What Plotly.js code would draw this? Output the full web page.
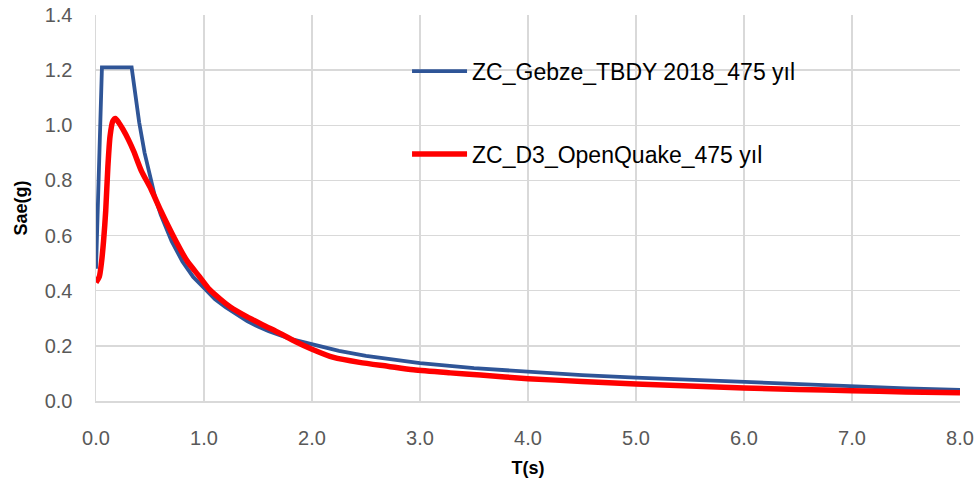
<!DOCTYPE html>
<html>
<head>
<meta charset="utf-8">
<script src="https://cdn.plot.ly/plotly-3.0.1.min.js"></script>
<style>html,body{margin:0;padding:0;background:#fff;}#chart{width:977px;height:481px;}</style>
</head>
<body>
<div id="chart"></div>
<script>
// Series 1: ZC_Gebze_TBDY 2018_475 yıl
var tbdyT = [0, 0.055, 0.33, 0.36, 0.4, 0.45, 0.5, 0.55, 0.6, 0.7, 0.8, 0.9, 1.0, 1.1, 1.2, 1.3, 1.4, 1.5, 1.6, 1.8, 2.0, 2.25, 2.5, 2.75, 3.0, 3.5, 4.0, 4.5, 5.0, 5.5, 6.0, 6.5, 7.0, 7.5, 8.0];
var tbdySae = [0.48, 1.21, 1.21, 1.125, 1.01, 0.90, 0.81, 0.735, 0.675, 0.58, 0.506, 0.45, 0.41, 0.37, 0.34, 0.313, 0.29, 0.27, 0.253, 0.225, 0.205, 0.182, 0.164, 0.149, 0.137, 0.119, 0.105, 0.094, 0.085, 0.077, 0.070, 0.061, 0.052, 0.046, 0.040];

// Series 2: ZC_D3_OpenQuake_475 yıl
var oqT = [0, 0.03, 0.05, 0.07, 0.09, 0.11, 0.13, 0.155, 0.18, 0.21, 0.25, 0.3, 0.35, 0.42, 0.51, 0.6, 0.72, 0.84, 0.96, 1.05, 1.15, 1.24, 1.4, 1.55, 1.7, 1.85, 2.0, 2.2, 2.44, 2.7, 2.94, 3.28, 3.56, 4.0, 4.5, 5.0, 5.5, 6.0, 6.5, 7.0, 7.5, 8.0];
var oqSae = [0.43, 0.45, 0.50, 0.58, 0.69, 0.85, 0.96, 1.015, 1.025, 1.01, 0.985, 0.948, 0.905, 0.835, 0.768, 0.69, 0.595, 0.51, 0.45, 0.405, 0.37, 0.342, 0.305, 0.275, 0.246, 0.215, 0.188, 0.158, 0.14, 0.126, 0.113, 0.102, 0.094, 0.081, 0.071, 0.062, 0.054, 0.047, 0.042, 0.037, 0.033, 0.030];

var seriesNames = ["ZC_Gebze_TBDY 2018_475 yıl", "ZC_D3_OpenQuake_475 yıl"];
var xTicks = [0, 1, 2, 3, 4, 5, 6, 7, 8];
var xTickText = ["0.0", "1.0", "2.0", "3.0", "4.0", "5.0", "6.0", "7.0", "8.0"];
var yTicks = [0, 0.2, 0.4, 0.6, 0.8, 1.0, 1.2, 1.4];
var yTickText = ["0.0", "0.2", "0.4", "0.6", "0.8", "1.0", "1.2", "1.4"];

var fontFam = "Liberation Sans, Arial, sans-serif";

var traces = [
  {x: tbdyT, y: tbdySae, name: seriesNames[0], type: "scatter", mode: "lines",
   legendgroup: "a", line: {color: "#2F5597", width: 3.8}},
  {x: oqT, y: oqSae, name: seriesNames[1], type: "scatter", mode: "lines",
   legendgroup: "b", line: {color: "#FF0000", width: 5.5, shape: "spline", smoothing: 0.7}}
];

var layout = {
  width: 977, height: 481,
  margin: {l: 96, r: 17, t: 15, b: 80},
  paper_bgcolor: "#fff", plot_bgcolor: "#fff",
  font: {family: fontFam, color: "#595959", size: 20},
  showlegend: true,
  legend: {x: 0.36, y: 0.91, xanchor: "left", yanchor: "top", bgcolor: "rgba(0,0,0,0)",
           traceorder: "grouped", tracegroupgap: 50, itemwidth: 55,
           font: {family: fontFam, size: 23, color: "#000"}},
  xaxis: {range: [0, 8], tickvals: xTicks, ticktext: xTickText, showgrid: true,
          gridcolor: "#D9D9D9", gridwidth: 1.5, zeroline: false, showline: true,
          linecolor: "#D9D9D9", linewidth: 1.5, ticks: "", ticklen: 0,
          ticklabelstandoff: 18,
          tickfont: {size: 20, color: "#595959"},
          title: {text: "<b>T(s)</b>", font: {size: 18, color: "#000"}, standoff: 14}},
  yaxis: {range: [0, 1.4], tickvals: yTicks, ticktext: yTickText, showgrid: true,
          gridcolor: "#D9D9D9", gridwidth: 1.5, zeroline: false, showline: true,
          linecolor: "#D9D9D9", linewidth: 1.5, ticks: "", ticklen: 0,
          ticklabelstandoff: 18,
          tickfont: {size: 20, color: "#595959"},
          title: {text: "<b>Sae(g)</b>", font: {size: 18, color: "#000"}, standoff: 12}}
};

Plotly.newPlot("chart", traces, layout, {displayModeBar: false, staticPlot: true});
</script>
</body>
</html>
